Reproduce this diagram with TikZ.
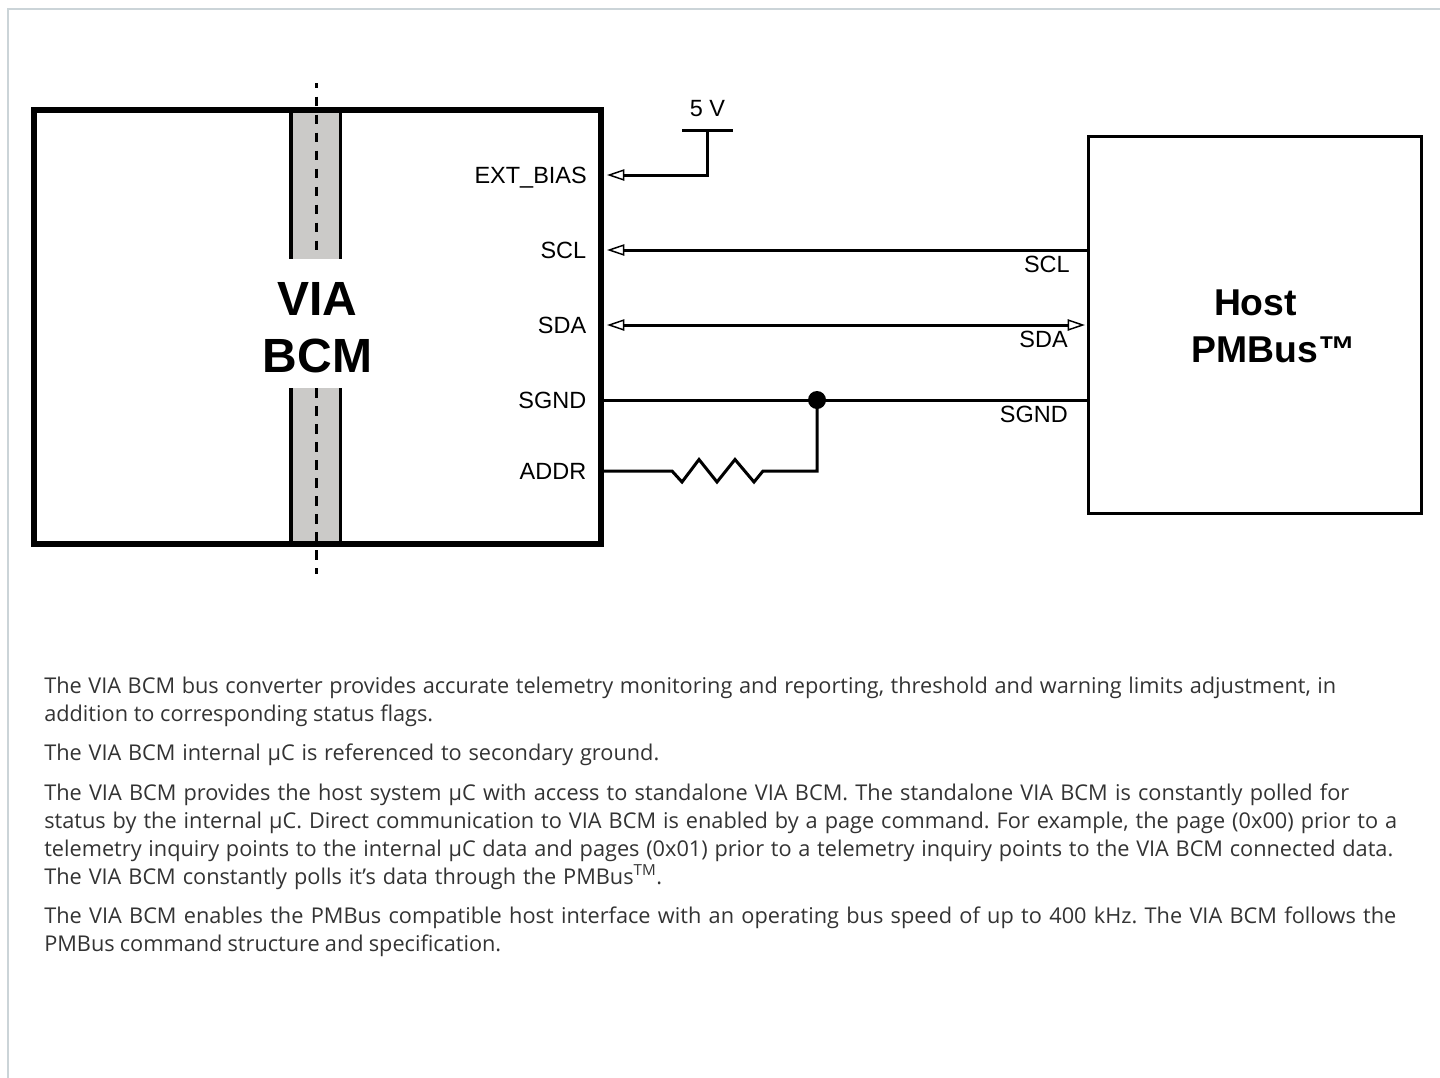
\documentclass[tikz,border=0pt]{standalone}
\usepackage{fontspec}
\setmainfont{Liberation Sans}
\newfontfamily\copyfont{Open Sans}
\usetikzlibrary{arrows.meta}
\definecolor{framegray}{HTML}{CBD4D8}
\definecolor{bandgray}{HTML}{CBCAC8}
\definecolor{copygray}{HTML}{333333}
% one row of the text, spread to its width in px
\newcommand{\copyrow}[2]{\frenchspacing\makebox[\dimexpr #1pt*3/4\relax][s]{#2}}
\tikzset{
  wire/.style={line width=2.25pt},
  bandedge/.style={line width=2.5pt},
  cutline/.style={line width=2.5pt,dash pattern=on 7.125pt off 6.375pt},
  pinlabel/.style={font=\fontsize{17.6}{20}\selectfont,inner sep=0pt,anchor=base east},
  biglabel/.style={font=\fontsize{36}{40}\selectfont\bfseries,inner sep=0pt,anchor=base},
  hostlabel/.style={font=\fontsize{28}{32}\selectfont\bfseries,inner sep=0pt,anchor=base},
  copyline/.style={font=\copyfont\fontsize{16.3}{21}\selectfont,text=copygray,inner sep=0pt,anchor=base west},
}
\begin{document}
\begin{tikzpicture}[x=0.75pt,y=-0.75pt,>={Triangle[open,length=13pt,width=8.5pt,line width=1.1pt]}]
  \useasboundingbox (0,0) rectangle (1440,1078);
  \draw[framegray,line width=1.5pt] (8,1078) -- (8,9) -- (1440,9);

  % converter block
  \fill[bandgray] (291,110) rectangle (340.5,259);
  \fill[bandgray] (291,388) rectangle (340.5,545);
  \draw[bandedge] (291,110) -- (291,259) (340.5,110) -- (340.5,259);
  \draw[bandedge] (291,388) -- (291,545) (340.5,388) -- (340.5,545);
  \draw[cutline,dash phase=3.375pt] (316.7,83) -- (316.7,252);
  \draw[cutline] (316.7,388) -- (316.7,574);
  \node[draw,line width=4.5pt,minimum width=425.25pt,minimum height=325.3pt,inner sep=0pt] (bcm) at (317.5,327.2) {};
  \node[biglabel] (via) at (317.5,315) {VIA};
  \node[biglabel] (bcmname) at (317.5,372) {BCM};

  % host block
  \node[draw,line width=2.25pt,minimum width=249.4pt,minimum height=283.1pt,inner sep=0pt] (host) at (1255.25,324.75) {};
  \node[hostlabel] (hostname) at (1255.5,315) {Host};
  \node[hostlabel] (pmbus) at (1273.5,362.5) {PMBus™};

  % pin labels
  \node[pinlabel] (extbias) at (587,183.5) {EXT\_BIAS};
  \node[pinlabel] (sclpin) at (586.5,258.5) {SCL};
  \node[pinlabel] (sdapin) at (586.5,333.5) {SDA};
  \node[pinlabel] (sgndpin) at (586.5,408.5) {SGND};
  \node[pinlabel] (addrpin) at (586.5,479.5) {ADDR};
  \node[pinlabel] (sclhost) at (1070,272) {SCL};
  \node[pinlabel] (sdahost) at (1068,347) {SDA};
  \node[pinlabel] (sgndhost) at (1068,422) {SGND};
  \node[pinlabel,anchor=base] (five) at (707.5,116) {5 V};

  % wiring
  \coordinate (rail) at (707,130); \coordinate (biasin) at (607,175); \coordinate (biascorner) at (707,175);
  \coordinate (railL) at (682,130); \coordinate (railR) at (733,130);
  \coordinate (sclin) at (607,250); \coordinate (sclout) at (1088,250);
  \coordinate (sdain) at (607,325); \coordinate (sdaout) at (1085,325);
  \coordinate (sgndin) at (602,400); \coordinate (sgndout) at (1088,400);
  \coordinate (addrin) at (602,471); \coordinate (join) at (817,400); \coordinate (joinlow) at (817,471);

  \draw[wire] (railL) -- (railR);
  \draw[wire,<-] (biasin) -- (biascorner) -- (rail);
  \draw[wire,<-] (sclin) -- (sclout);
  \draw[wire,<->] (sdain) -- (sdaout);
  \draw[wire] (sgndin) -- (sgndout);
  \draw[wire] (addrin) -- (672,471) -- (682,482) -- (699,459.5) -- (717,482) -- (735,459.5) -- (754,482) -- (763,471) -- (joinlow) -- (join);
  \fill (join) circle (6.75pt);

  % text below
  \node[copyline] (t1) at (44,693) {\copyrow{1292}{The VIA BCM bus converter provides accurate telemetry monitoring and reporting, threshold and warning limits adjustment, in}};
  \node[copyline] (t2) at (44,721) {\copyrow{389}{addition to corresponding status flags.}};
  \node[copyline] (t3) at (44,760) {\copyrow{615}{The VIA BCM internal µC is referenced to secondary ground.}};
  \node[copyline] (t4) at (44,800) {\copyrow{1305}{The VIA BCM provides the host system µC with access to standalone VIA BCM. The standalone VIA BCM is constantly polled for}};
  \node[copyline] (t5) at (44,828) {\copyrow{1353}{status by the internal µC. Direct communication to VIA BCM is enabled by a page command. For example, the page (0x00) prior to a}};
  \node[copyline] (t6) at (44,856) {\copyrow{1349}{telemetry inquiry points to the internal µC data and pages (0x01) prior to a telemetry inquiry points to the VIA BCM connected data.}};
  \node[copyline] (t7) at (44,884) {\copyrow{618}{The VIA BCM constantly polls it’s data through the PMBus\textsuperscript{TM}.}};
  \node[copyline] (t8) at (44,923) {\copyrow{1352}{The VIA BCM enables the PMBus compatible host interface with an operating bus speed of up to 400 kHz. The VIA BCM follows the}};
  \node[copyline] (t9) at (44,951) {\copyrow{457}{PMBus command structure and specification.}};
\end{tikzpicture}
\end{document}
